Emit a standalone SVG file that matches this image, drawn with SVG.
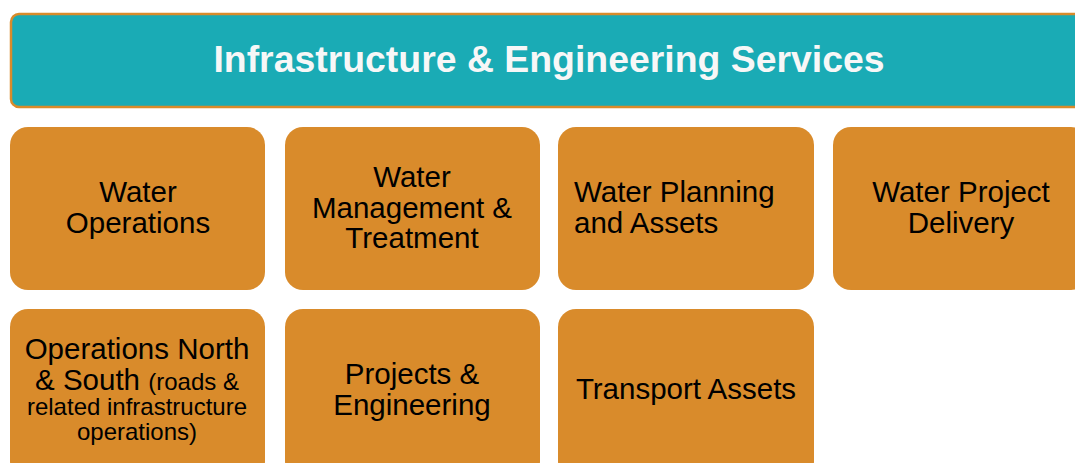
<svg xmlns="http://www.w3.org/2000/svg" width="1075" height="463" viewBox="0 0 1075 463">
  <style>
    .box { fill: #D98B2B; }
    .lbl { font-family: "Liberation Sans", Arial, sans-serif; font-size: 29.5px; fill: #000; }
    .sm { font-size: 24px; }
    .title { font-family: "Liberation Sans", Arial, sans-serif; font-size: 37.4px; font-weight: bold; fill: #F7F7F7; }
  </style>
  <rect width="1075" height="463" fill="#fff"/>

  <g id="header">
    <rect x="11" y="14" width="1080" height="93" rx="8" fill="#1AABB5" stroke="#D98B2B" stroke-width="2.5"/>
    <text class="title" x="549" y="71.5" text-anchor="middle">Infrastructure &amp; Engineering Services</text>
  </g>

  <g id="water-operations" text-anchor="middle">
    <rect class="box" x="10" y="127" width="255" height="163" rx="18"/>
    <text class="lbl" x="138" y="202">Water</text>
    <text class="lbl" x="138" y="233">Operations</text>
  </g>

  <g id="water-management" text-anchor="middle">
    <rect class="box" x="285" y="127" width="255" height="163" rx="18"/>
    <text class="lbl" x="412" y="187">Water</text>
    <text class="lbl" x="412" y="218">Management &amp;</text>
    <text class="lbl" x="412" y="248">Treatment</text>
  </g>

  <g id="water-planning" text-anchor="start">
    <rect class="box" x="558" y="127" width="256" height="163" rx="18"/>
    <text class="lbl" x="574" y="202">Water Planning</text>
    <text class="lbl" x="574" y="233">and Assets</text>
  </g>

  <g id="water-project-delivery" text-anchor="middle">
    <rect class="box" x="833" y="127" width="256" height="163" rx="18"/>
    <text class="lbl" x="961" y="202">Water Project</text>
    <text class="lbl" x="961" y="233">Delivery</text>
  </g>

  <g id="operations-north-south" text-anchor="middle">
    <rect class="box" x="10" y="309" width="255" height="170" rx="18"/>
    <text class="lbl" x="137" y="359">Operations North</text>
    <text class="lbl" x="137" y="390">&amp; South <tspan class="sm">(roads &amp;</tspan></text>
    <text class="lbl sm" x="137" y="415">related infrastructure</text>
    <text class="lbl sm" x="137" y="440">operations)</text>
  </g>

  <g id="projects-engineering" text-anchor="middle">
    <rect class="box" x="285" y="309" width="255" height="170" rx="18"/>
    <text class="lbl" x="412" y="384">Projects &amp;</text>
    <text class="lbl" x="412" y="415">Engineering</text>
  </g>

  <g id="transport-assets" text-anchor="middle">
    <rect class="box" x="558" y="309" width="256" height="170" rx="18"/>
    <text class="lbl" x="686" y="399">Transport Assets</text>
  </g>
</svg>
